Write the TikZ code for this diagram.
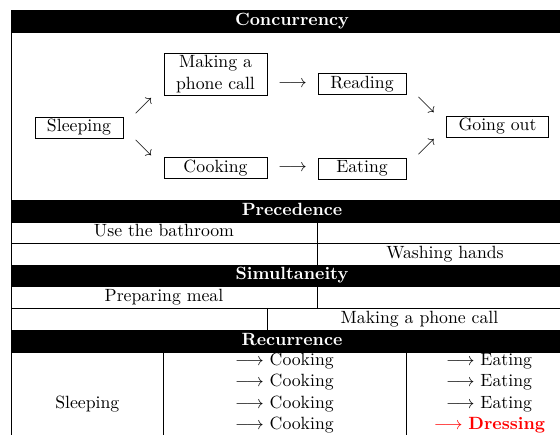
\documentclass[tikz,border=0pt]{standalone}
\usepackage{xcolor}
\usetikzlibrary{calc}

\tikzset{
  band/.style={fill=black,text=white,font=\bfseries,inner sep=0pt,
    minimum width=316.4pt,minimum height=12.4pt,text height=6.9pt,text depth=1.9pt},
  actbox/.style={draw,line width=0.4pt,inner xsep=6.8pt,inner ysep=1.4pt,minimum height=11.8pt},
  cell/.style={inner sep=0pt,text height=6.9pt,text depth=1.9pt},
  rule/.style={line width=0.4pt},
}

\begin{document}
\begin{tikzpicture}[x=0.564pt,y=-0.564pt]
\useasboundingbox (0,0) rectangle (560,435);
\clip (0,0) rectangle (560,435);

% frame and row rules
\draw[rule](11.5,445)--(11.5,10)--(572.5,10)--(572.5,445);
\foreach\y in {200,222,243.5,265,286,308,330,352}{
	\draw[rule](11.5,\y)--(572.5,\y);}

% column rules
\draw[rule](317,222)--(317,265);
\draw[rule](317,286)--(317,308);
\draw[rule](267,308)--(267,330);
\draw[rule](163,352)--(163,445);
\draw[rule](406,352)--(406,445);

% title bands
\node[band,minimum height=13pt] (conc) at (292,21.5){Concurrency};
\node[band] (prec) at (292,211){Precedence};
\node[band] (simul) at (292,275.5){Simultaneity};
\node[band] (recur) at (292,341){Recurrence};

% concurrency
\node[actbox] (sleep) at (79,127.5){Sleeping};
\node[actbox,align=center,minimum width=58pt,minimum height=23.7pt] (phone) at (215.5,74){Making a\\phone call};
\node[actbox,minimum width=49.6pt] (reading) at (362,84){Reading};
\node[actbox,minimum width=58pt] (cooking) at (215.5,168){Cooking};
\node[actbox,minimum width=49.6pt] (eating) at (362,168.5){Eating};
\node[actbox] (goout) at (497.5,126.5){Going out};

\node (up1) at ($(sleep.north east)!0.5!(phone.south west)$){$\nearrow$};
\node (dn1) at ($(sleep.south east)!0.5!(cooking.north west)$){$\searrow$};
\node (to1) at ($(phone.east |- reading.west)!0.5!(reading.west)$){$\longrightarrow$};
\node (to2) at ($(cooking.east)!0.5!(eating.west)$){$\longrightarrow$};
\node (dn2) at ($(reading.south east)!0.5!(goout.north west)$){$\searrow$};
\node (up2) at ($(eating.north east)!0.5!(goout.south west)$){$\nearrow$};

% precedence
\node[cell] (bath) at (164,232.5){Use the bathroom};
\node[cell] (wash) at (445,254){Washing hands};

% simultaneity
\node[cell] (meal) at (164,297){Preparing meal};
\node[cell] (call) at (419.5,319){Making a phone call};

% recurrence
\node[cell] (rsleep) at (87.3,403.7){Sleeping};
\foreach\i in {0,...,3}{
	\node[cell] (cook\i) at (284.5,361+21.33*\i){$\longrightarrow$ Cooking};}
\foreach\i in {0,...,2}{
	\node[cell] (eat\i) at (489,361+21.33*\i){$\longrightarrow$ Eating};}
\node[cell,text=red] (dress) at (489.5,425){$\longrightarrow$ \textbf{Dressing}};
\end{tikzpicture}
\end{document}
